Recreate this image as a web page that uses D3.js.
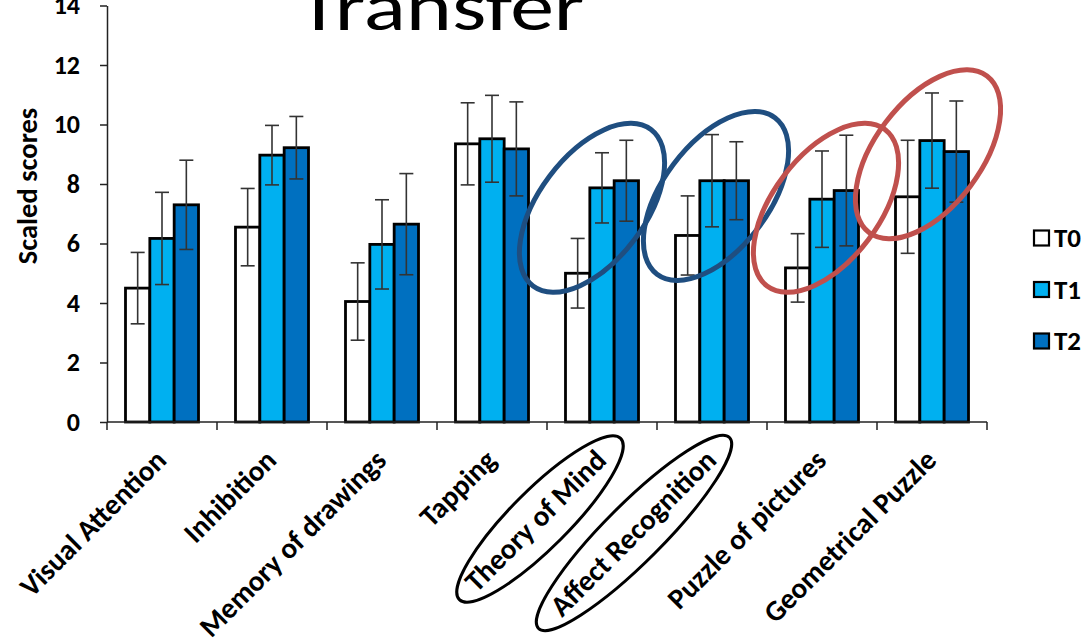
<!DOCTYPE html>
<html><head><meta charset="utf-8">
<script src="https://cdn.jsdelivr.net/npm/d3@7"></script>
<style>
html,body{margin:0;padding:0;background:#fff;}
svg{display:block;}
text{font-family:Carlito,Calibri,Lato,"Open Sans",sans-serif;}
</style></head>
<body>
<svg id="chart" width="1089" height="641"></svg>
<script>
const categories = ["Visual Attention","Inhibition","Memory of drawings","Tapping","Theory of Mind","Affect Recognition","Puzzle of pictures","Geometrical Puzzle"];
const seriesNames = ["T0","T1","T2"];
const T0 = [4.5, 6.55, 4.05, 9.35, 5.0, 6.27, 5.18, 7.57];
const T1 = [6.17, 8.97, 5.97, 9.52, 7.87, 8.11, 7.49, 9.46];
const T2 = [7.3, 9.22, 6.65, 9.18, 8.11, 8.11, 7.78, 9.09];
const errT0 = [1.2, 1.3, 1.3, 1.38, 1.17, 1.33, 1.15, 1.9];
const errT1 = [1.55, 1.0, 1.5, 1.46, 1.18, 1.55, 1.62, 1.6];
const errT2 = [1.5, 1.05, 1.7, 1.58, 1.36, 1.31, 1.86, 1.7];
const yTicks = [0,2,4,6,8,10,12,14];
const title = "Transfer";
const yTitle = "Scaled scores";

(function(){
const values = {T0, T1, T2};
const errs = {T0: errT0, T1: errT1, T2: errT2};
const colors = {T0: "#ffffff", T1: "#00b0f0", T2: "#0070c0"};

const svg = d3.select("#chart");
const mLeft = 107, mRight = 987, mTop = 5.5, mBottom = 422;

const x0 = d3.scaleBand().domain(categories).range([mLeft, mRight]).padding(0);
const x1 = d3.scaleBand().domain(seriesNames).range([0, x0.bandwidth()]).paddingInner(0).paddingOuter(0.76);
const y = d3.scaleLinear().domain([0, 14]).range([mBottom, mTop]);

// title
svg.append("text").attr("x", 441).attr("y", 30).attr("text-anchor", "middle")
  .attr("font-size", 68).attr("font-weight", 400).attr("textLength", 287).attr("lengthAdjust","spacingAndGlyphs")
  .attr("fill", "#000").text(title);

// bars
const rows = [];
categories.forEach((c, i) => seriesNames.forEach(s => rows.push({c, s, v: values[s][i], e: errs[s][i]})));

svg.append("g").selectAll("rect").data(rows).join("rect")
  .attr("x", d => x0(d.c) + x1(d.s))
  .attr("y", d => y(d.v))
  .attr("width", x1.bandwidth())
  .attr("height", d => y(0) - y(d.v))
  .attr("fill", d => colors[d.s])
  .attr("stroke", "#000").attr("stroke-width", 2.8);

// error bars
const eg = svg.append("g").attr("stroke", "#333").attr("stroke-width", 1.6).attr("fill", "none");
rows.forEach(d => {
  const cx = x0(d.c) + x1(d.s) + x1.bandwidth() / 2;
  eg.append("line").attr("x1", cx).attr("x2", cx).attr("y1", y(d.v + d.e)).attr("y2", y(d.v - d.e));
  eg.append("line").attr("x1", cx - 7).attr("x2", cx + 7).attr("y1", y(d.v + d.e)).attr("y2", y(d.v + d.e));
  eg.append("line").attr("x1", cx - 7).attr("x2", cx + 7).attr("y1", y(d.v - d.e)).attr("y2", y(d.v - d.e));
});

// y axis
const yAxis = svg.append("g").attr("transform", `translate(${mLeft},0)`)
  .call(d3.axisLeft(y).tickValues(yTicks).tickSize(7).tickPadding(20).tickSizeOuter(0));
yAxis.select(".domain").attr("stroke", "#222").attr("stroke-width", 1.5);
yAxis.selectAll(".tick line").attr("stroke", "#222").attr("stroke-width", 1.5);
yAxis.selectAll(".tick text").attr("font-size", 26).attr("font-weight", 700).attr("fill", "#000")
  .attr("font-family", "Carlito,Calibri,Lato,sans-serif");

// x axis
const xAxisG = svg.append("g").attr("transform", `translate(0,${mBottom})`);
xAxisG.append("line").attr("x1", mLeft).attr("x2", mRight).attr("stroke", "#222").attr("stroke-width", 1.5);
const boundaries = categories.map(c => x0(c)).concat([mRight]);
xAxisG.selectAll("line.tk").data(boundaries).join("line").attr("class","tk")
  .attr("x1", d => d).attr("x2", d => d).attr("y1", 0).attr("y2", 8)
  .attr("stroke", "#222").attr("stroke-width", 1.5);

svg.append("g").selectAll("text").data(categories).join("text")
  .attr("transform", d => `translate(${x0(d) + x0.bandwidth()/2 + 6},462) rotate(-45)`)
  .attr("text-anchor", "end").attr("font-size", 29).attr("font-weight", 700).attr("fill", "#000")
  .text(d => d);

// y title
svg.append("text").attr("transform", "translate(37,186) rotate(-90)").attr("text-anchor", "middle")
  .attr("font-size", 28.5).attr("font-weight", 700).attr("fill", "#000").text(yTitle);

// legend
const lg = svg.append("g");
seriesNames.forEach((s, i) => {
  const cy = 238 + i * 51.5;
  lg.append("rect").attr("x", 1034).attr("y", cy - 7.5).attr("width", 15).attr("height", 15)
    .attr("fill", colors[s]).attr("stroke", "#000").attr("stroke-width", 2.2);
  lg.append("text").attr("x", 1054).attr("y", cy + 9).attr("font-size", 27).attr("font-weight", 700)
    .attr("fill", "#000").text(s);
});

// annotation ellipses (positioned from scales)
const ann = svg.append("g").attr("fill", "none");
const ccx = c => x0(c) + x0.bandwidth()/2;
[
  {c: "Theory of Mind", dx: -10, v: 7.2, col: "#1f4e80"},
  {c: "Affect Recognition", dx: 4, v: 7.6, col: "#1f4e80"},
  {c: "Puzzle of pictures", dx: 4, v: 7.2, col: "#c0504d"},
  {c: "Geometrical Puzzle", dx: -4, v: 9.0, col: "#c0504d"}
].forEach(a => {
  ann.append("ellipse").attr("cx", 0).attr("cy", 0).attr("rx", 98).attr("ry", 53)
    .attr("transform", `translate(${ccx(a.c) + a.dx},${y(a.v)}) rotate(-53)`)
    .attr("stroke", a.col).attr("stroke-width", 5);
});
[
  {c: "Theory of Mind", dx: -62, dy: 519, rx: 114, ry: 29},
  {c: "Affect Recognition", dx: -78, dy: 533, rx: 135, ry: 29}
].forEach(a => {
  ann.append("ellipse").attr("cx", 0).attr("cy", 0).attr("rx", a.rx).attr("ry", a.ry)
    .attr("transform", `translate(${ccx(a.c) + a.dx},${a.dy}) rotate(-45)`)
    .attr("stroke", "#000").attr("stroke-width", 3);
});
})();
</script>
</body></html>
